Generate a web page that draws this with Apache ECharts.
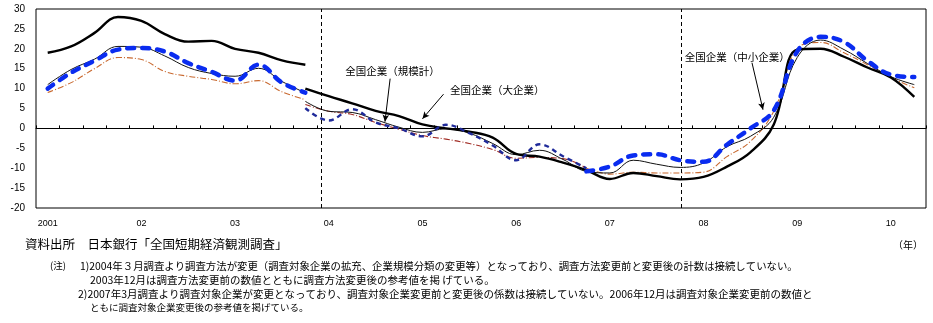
<!DOCTYPE html>
<html><head><meta charset="utf-8">
<script src="https://cdn.jsdelivr.net/npm/echarts@6/dist/echarts.min.js"></script>
<style>html,body{margin:0;padding:0;background:#fff}#c{width:933px;height:323px}</style>
</head><body><div id="c"></div>
<script>
const categories = ['2001Q1','2001Q2','2001Q3','2001Q4','2002Q1','2002Q2','2002Q3','2002Q4','2003Q1','2003Q2','2003Q3','2003Q4',
  '2004Q1','2004Q2','2004Q3','2004Q4','2005Q1','2005Q2','2005Q3','2005Q4','2006Q1','2006Q2','2006Q3','2006Q4',
  '2007Q1','2007Q2','2007Q3','2007Q4','2008Q1','2008Q2','2008Q3','2008Q4','2009Q1','2009Q2','2009Q3','2009Q4','2010Q1','2010Q2'];
const tickLabels = ['2001','02','03','04','05','06','07','08','09','10'];
const yTicks = [-20,-15,-10,-5,0,5,10,15,20,25,30];

// 全国企業（大企業） thick black
const largeOld = [19.0, 20.6, 24.0, 28.0, 27.0, 23.7, 21.8, 22.0, 20.0, 19.0, 17.1, 16.0];          // 2001Q1-2003Q4
const largeNew = [10.0, 8.1, 6.3, 4.4, 3.1, 1.0, 0.0, -0.8, -2.3, -6.4, -7.1, -8.6, -10.5,
  -12.7, -11.2, -12.0, -12.8, -12.2, -9.6, -6.0, 1.0, 19.8, 20.0, 18.0, 15.3, 12.8, 7.9];          // 2003Q4-2010Q2
// 全国企業（規模計） thin black
const allOld = [11.0, 14.8, 17.4, 20.6, 20.4, 18.2, 15.3, 13.8, 13.1, 15.1, 11.8, 8.9];
const allNew = [6.8, 4.3, 4.0, 2.2, 0.3, -1.0, -0.1, -1.2, -3.8, -6.6, -5.5, -7.8, -10.8,
  -11.2, -8.0, -9.0, -9.8, -8.7, -4.6, -2.0, 2.8, 17.8, 22.2, 19.8, 16.3, 13.0, 11.0];
// 中堅企業 dash-dot
const midP1 = [9.0, 11.5, 15.0, 17.8, 17.3, 14.3, 13.1, 12.3, 11.2, 12.0, 9.2, 7.2];                 // 2001Q1-2003Q4
const midP2 = [6.0, 4.3, 3.5, 1.5, -0.2, -1.8, -2.7, -3.8, -5.3, -7.5, -7.3, -7.6, -10.0];          // 2003Q4-2006Q4
const midP3 = [-10.0, -11.5, -11.0, -11.2, -11.2, -11.0, -7.1, -3.3, 4.3, 20.0, 21.6, 19.0, 16.0, 12.8, 10.2]; // 2006Q4-2010Q2
// 全国企業（中小企業） blue dashed
const smallP1 = [10.0, 14.0, 17.0, 19.8, 20.2, 19.3, 16.4, 14.2, 12.0, 16.0, 11.5, 9.0];
const smallP2 = [5.1, 2.0, 4.8, 1.5, 0.0, -2.0, 0.9, -1.2, -4.3, -8.0, -4.0, -7.0, -10.0];
const smallP3 = [-10.8, -9.6, -6.8, -6.5, -8.0, -8.4, -4.1, 0.0, 4.5, 19.3, 23.0, 21.7, 17.0, 13.5, 12.9];

// break lines (position on a 0..38 quarter scale) and annotations
const breakLines = [12.17, 27.53];
const annotations = [
  {text:'全国企業（規模計）', label:[13.2, 14.3], from:[15.12, 12.5], to:[14.9, 1.7]},
  {text:'全国企業（大企業）', label:[17.68, 9.7], from:[17.4, 8.6], to:[16.5, 2.4]},
  {text:'全国企業（中小企業）', label:[27.7, 18.0], from:[30.57, 16.5], to:[31.04, 4.7]}
];

function place(arr, start) {
  const out = new Array(categories.length).fill(null);
  arr.forEach((v, i) => { out[start + i] = v; });
  return out;
}
const FONT = '"Noto Sans CJK JP", "Noto Sans", sans-serif';
const chart = echarts.init(document.getElementById('c'), null, {renderer:'canvas'});

function line(name, data, style, z) {
  return {name, type:'line', xAxisIndex:0, yAxisIndex:0, data, smooth:0.4, symbol:'none',
    connectNulls:false, lineStyle:style, z:z||2, animation:false};
}
const dashDot = [6,2,1,2];
const series = [
  line('中堅企業1', place(midP1,0), {color:'#c8682e', width:1.1, type:dashDot}, 2),
  line('中堅企業2', place(midP2,11), {color:'#a02a22', width:1.1, type:dashDot}, 2),
  line('中堅企業3', place(midP3,23), {color:'#c8682e', width:1.1, type:dashDot}, 2),
  line('規模計1', place(allOld,0), {color:'#111', width:1}, 3),
  line('規模計2', place(allNew,11), {color:'#111', width:1}, 3),
  line('大企業1', place(largeOld,0), {color:'#000', width:2.4}, 4),
  line('大企業2', place(largeNew,11), {color:'#000', width:2.4}, 4),
  line('中小企業1', place(smallP1,0), {color:'#0a2cf0', width:4.5, type:[7,8], cap:'round'}, 5),
  line('中小企業2', place(smallP2,11), {color:'#1f2a9a', width:2.4, type:[5,4]}, 5),
  line('中小企業3', place(smallP3,23), {color:'#0a2cf0', width:4.5, type:[7,8], cap:'round'}, 5),
  {type:'line', xAxisIndex:2, yAxisIndex:0, data:[], symbol:'none', animation:false,
    markLine:{silent:true, symbol:['none','none'], label:{show:false},
      lineStyle:{color:'#000', width:1, type:[4,3]},
      data: breakLines.map(v => ({xAxis:v}))}},
  {type:'line', xAxisIndex:2, yAxisIndex:0, data:[], symbol:'none', animation:false,
    markLine:{silent:true, symbol:['none','arrow'], symbolSize:[5,7], label:{show:false},
      lineStyle:{color:'#000', width:1, type:'solid'},
      data: annotations.map(a => [{coord:a.from},{coord:a.to}])},
    markPoint:{silent:true, symbol:'circle', symbolSize:0,
      label:{show:true, position:'right', distance:0, color:'#000', fontSize:10.5, fontFamily:FONT,
        formatter: p => p.name},
      data: annotations.map(a => ({name:a.text, coord:a.label}))}}
];

chart.setOption({
  animation:false,
  grid:{left:36, top:9, right:7, bottom:115, show:true, borderColor:'#000', borderWidth:1, backgroundColor:'transparent'},
  xAxis:[
    {type:'category', data:categories, position:'bottom', boundaryGap:true,
      axisLine:{show:false, onZero:false}, axisTick:{show:false}, splitLine:{show:false},
      axisLabel:{interval:3, margin:11, fontSize:9, color:'#000', fontFamily:'"Liberation Sans", Arial, sans-serif',
        formatter:(v, i) => tickLabels[Math.floor(i/4)]}},
    {type:'category', data:categories, position:'bottom', boundaryGap:true,
      axisLine:{show:true, onZero:true, lineStyle:{color:'#000', width:1}},
      axisTick:{show:true, inside:true, length:3, interval:0, lineStyle:{color:'#000'}},
      axisLabel:{show:false}, splitLine:{show:false}},
    {type:'value', min:0, max:categories.length, show:false}
  ],
  yAxis:[{type:'value', min:yTicks[0], max:yTicks[yTicks.length-1], interval:5,
    axisLine:{show:false}, axisTick:{show:false}, splitLine:{show:false},
    axisLabel:{margin:11, fontSize:10, color:'#000', fontFamily:'"Liberation Sans", Arial, sans-serif'}}],
  series,
  graphic:[
    {type:'text', left:893, top:240, style:{text:'（年）', font:'10px '+FONT, fill:'#000'}},
    {type:'text', left:25, top:238, style:{text:'資料出所　日本銀行「全国短期経済観測調査」', font:'12.5px '+FONT, fill:'#000'}},
    {type:'text', left:50, top:261, style:{text:'(注)', font:'9.5px '+FONT, fill:'#000'}},
    {type:'text', left:80, top:261, style:{text:'1)2004年３月調査より調査方法が変更（調査対象企業の拡充、企業規模分類の変更等）となっており、調査方法変更前と変更後の計数は接続していない。', font:'10.4px '+FONT, fill:'#000'}},
    {type:'text', left:90, top:275, style:{text:'2003年12月は調査方法変更前の数値とともに調査方法変更後の参考値を掲 げている。', font:'10.5px '+FONT, fill:'#000'}},
    {type:'text', left:78, top:289, style:{text:'2)2007年3月調査より調査対象企業が変更となっており、調査対象企業変更前と変更後の係数は接続していない。2006年12月は調査対象企業変更前の数値と', font:'10.5px '+FONT, fill:'#000'}},
    {type:'text', left:90, top:303, style:{text:'ともに調査対象企業変更後の参考値を掲げている。', font:'9.5px '+FONT, fill:'#000'}}
  ]
});
</script></body></html>
